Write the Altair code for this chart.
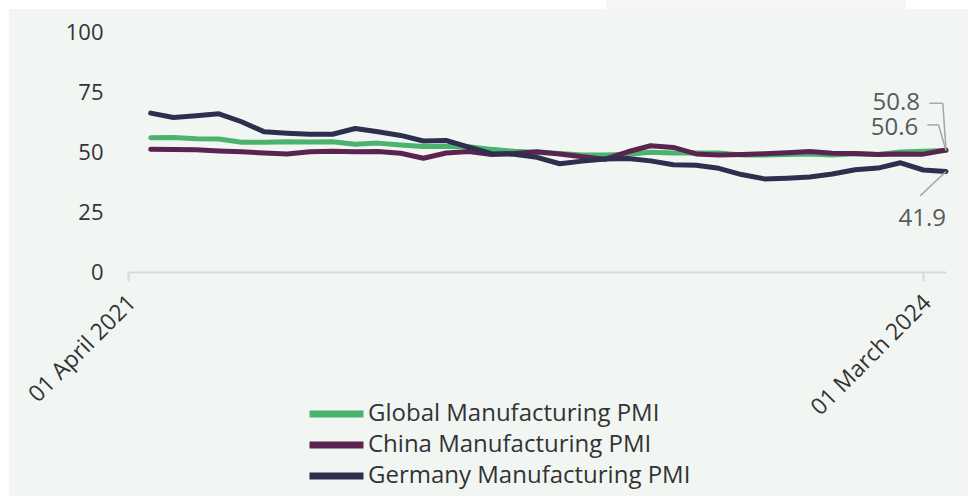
import altair as alt
import pandas as pd

# ---- data -------------------------------------------------------------
series_names = ["Global Manufacturing PMI", "China Manufacturing PMI", "Germany Manufacturing PMI"]
series_colors = ["#4cb26f", "#5b2450", "#2d2f4e"]

month_index = list(range(36))  # April 2021 .. March 2024

global_pmi = [55.9, 56.0, 55.5, 55.4, 54.1, 54.1, 54.3, 54.2, 54.3, 53.2, 53.7, 52.9,
              52.3, 52.3, 52.2, 51.1, 50.3, 49.8, 49.4, 48.8, 48.7, 49.1, 49.9, 49.6,
              49.6, 49.6, 48.8, 48.7, 49.0, 49.2, 48.8, 49.3, 49.0, 50.0, 50.3, 50.6]
china_pmi = [51.1, 51.0, 50.9, 50.4, 50.1, 49.6, 49.2, 50.1, 50.3, 50.1, 50.2, 49.5,
             47.4, 49.6, 50.2, 49.0, 49.4, 50.1, 49.2, 48.0, 47.0, 50.1, 52.6, 51.9,
             49.2, 48.8, 49.0, 49.3, 49.7, 50.2, 49.5, 49.4, 49.0, 49.2, 49.1, 50.8]
germany_pmi = [66.2, 64.4, 65.1, 65.9, 62.6, 58.4, 57.8, 57.4, 57.4, 59.8, 58.4, 56.9,
               54.6, 54.8, 52.0, 49.3, 49.1, 47.8, 45.1, 46.2, 47.1, 47.3, 46.3, 44.7,
               44.5, 43.2, 40.6, 38.8, 39.1, 39.6, 40.8, 42.6, 43.3, 45.5, 42.5, 41.9]

tick_values = [-1, 34]
tick_labels = ["01 April 2021", "01 March 2024"]
y_ticks = [0, 25, 50, 75, 100]

# end-of-series callouts
callout_text = ["50.8", "50.6", "41.9"]
callout_x = [33.86, 33.78, 35.0]
callout_y = [70.3, 60.2, 22.0]
leader_x = [34.27, 34.86, 34.18, 34.67, 33.86]
leader_y = [70.3, 70.3, 61.3, 61.3, 31.7]
leader_x2 = [34.86, 35.0, 34.67, 35.0, 35.0]
leader_y2 = [70.3, 50.8, 61.3, 50.6, 41.9]

# ---- tables -------------------------------------------------------------
rows = []
for name, vals in zip(series_names, [global_pmi, china_pmi, germany_pmi]):
    for i, v in zip(month_index, vals):
        rows.append({"idx": i, "value": v, "series": name})
df = pd.DataFrame(rows)

df_callout = pd.DataFrame({"label": callout_text, "x": callout_x, "y": callout_y})
df_leader = pd.DataFrame({"x": leader_x, "y": leader_y, "x2": leader_x2, "y2": leader_y2})

FONT = "Open Sans"

label_expr = " : ".join(
    [f"datum.value == {v} ? '{t}'" for v, t in zip(tick_values[:-1], tick_labels[:-1])]
    + [f"'{tick_labels[-1]}'"]
)

x_scale = alt.Scale(domain=[-1, 35], nice=False, zero=False)
y_scale = alt.Scale(domain=[0, 100], nice=False)

one_row = pd.DataFrame({"a": [0]})
panel = alt.Chart(one_row).mark_rect(color="#f1f6f3").encode(
    x=alt.value(-119), x2=alt.value(840), y=alt.value(-23), y2=alt.value(464)
)
top_tab = alt.Chart(one_row).mark_rect(color="#f5f5f5").encode(
    x=alt.value(478), x2=alt.value(778), y=alt.value(-32), y2=alt.value(-23)
)

lines = alt.Chart(df).mark_line(strokeWidth=5, strokeJoin="round", strokeCap="round").encode(
    x=alt.X("idx:Q", scale=x_scale,
            axis=alt.Axis(values=tick_values, labelExpr=label_expr, title=None, grid=False,
                          labelAngle=-45, labelFontSize=23, labelFont=FONT, labelColor="#333333",
                          domainColor="#d9d9d9", domainWidth=2, tickColor="#d9d9d9",
                          tickWidth=2, tickSize=9, labelPadding=10, labelOffset=-4,
                          labelFlush=False, labelBound=False, labelOverlap=False,
                          zindex=1)),
    y=alt.Y("value:Q", scale=y_scale,
            axis=alt.Axis(values=y_ticks, title=None, grid=False, domain=False, ticks=False,
                          labelFontSize=22, labelFont=FONT, labelColor="#333333",
                          labelPadding=25, zindex=1)),
    color=alt.Color("series:N", sort=series_names,
                    scale=alt.Scale(domain=series_names, range=series_colors),
                    legend=alt.Legend(orient="none", legendX=205, legendY=365, title=None,
                                      symbolType="M-3,0L1,0", symbolSize=729,
                                      symbolStrokeWidth=7, symbolFillColor="transparent",
                                      labelFontSize=24, labelFont=FONT,
                                      labelColor="#333333", labelOffset=1, rowPadding=0,
                                      labelLimit=400, zindex=1)),
    order=alt.Order("idx:Q"),
)

leaders = alt.Chart(df_leader).mark_rule(color="#a6a6a6", strokeWidth=1.5).encode(
    x=alt.X("x:Q", scale=x_scale), y=alt.Y("y:Q", scale=y_scale), x2="x2:Q", y2="y2:Q"
)

callouts = alt.Chart(df_callout).mark_text(
    align="right", baseline="middle", font=FONT, fontSize=24, color="#595959"
).encode(x=alt.X("x:Q", scale=x_scale), y=alt.Y("y:Q", scale=y_scale), text="label:N")

chart = alt.layer(panel, top_tab, lines, leaders, callouts).properties(
    width=818, height=240,
    autosize=alt.AutoSizeParams(type="none"),
    padding={"left": 128, "top": 32, "right": 22, "bottom": 224},
    background="white",
).configure_view(stroke=None)

chart.save("out.html", embed_options={"renderer": "svg", "actions": False})
